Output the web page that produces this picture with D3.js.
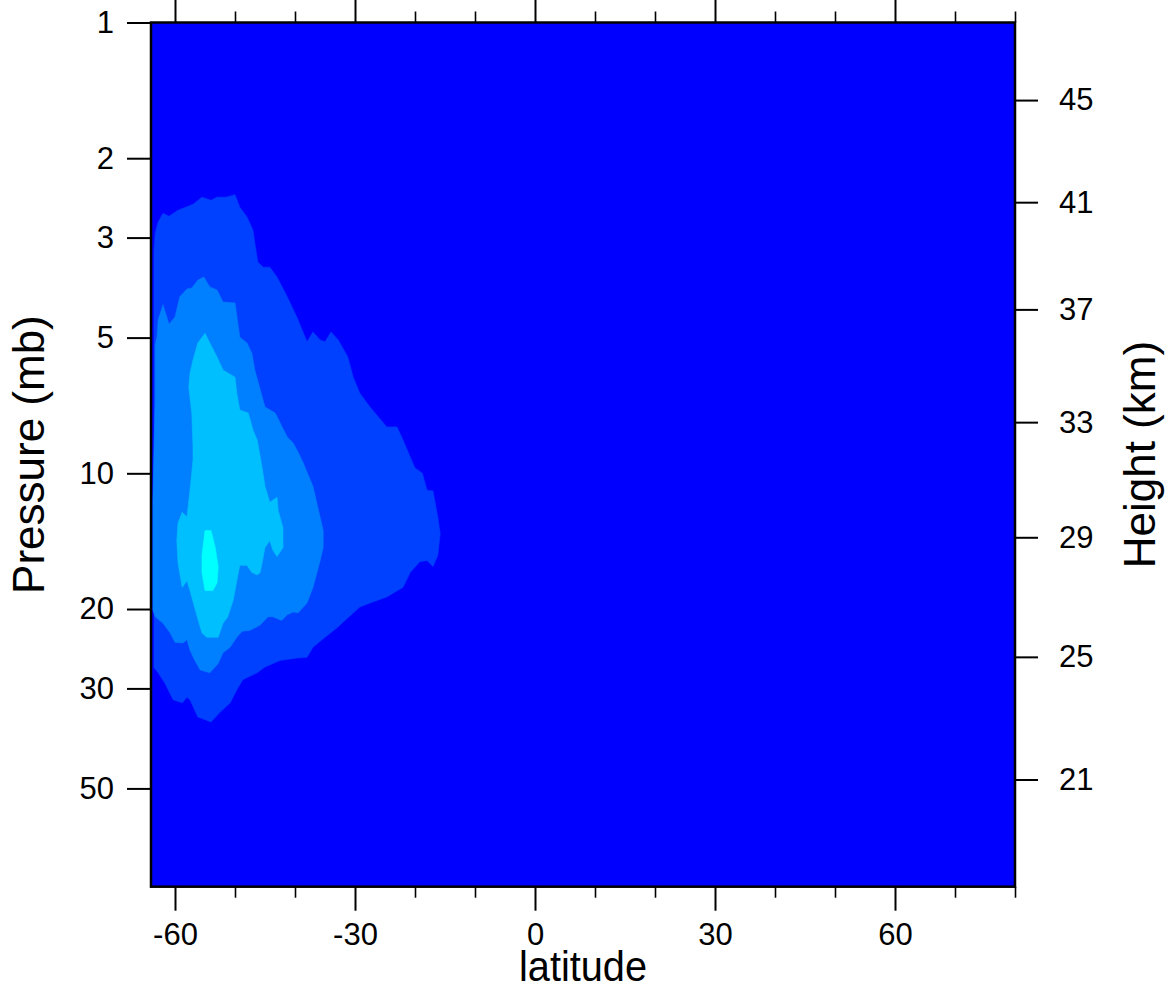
<!DOCTYPE html>
<html>
<head>
<meta charset="utf-8">
<script src="https://cdn.jsdelivr.net/npm/d3@7"></script>
<style>
  html, body { margin: 0; padding: 0; background: #fff; }
  svg { display: block; }
  text { font-family: "Liberation Sans", Arial, Helvetica, sans-serif; fill: #000; }
</style>
</head>
<body>
<svg id="chart" width="1172" height="986"></svg>
<script>
// ---------- data ----------
const latDomain = [-64, 80];
const pressureDomain = [1, 82.6];          // mb, top to bottom
const latMajorTicks = [-60, -30, 0, 30, 60];
const latMinorTicks = [-50, -40, -20, -10, 10, 20, 40, 50, 70, 80];
const pressureTicks = [1, 2, 3, 5, 10, 20, 30, 50];
const heightTicks = [45, 41, 37, 33, 29, 25, 21];            // km
const heightTickPressures = [1.49, 2.51, 4.34, 7.72, 13.9, 25.6, 47.9]; // mb at each height tick

const backgroundColor = "#0000FF";
const levelColors = ["#0040FF", "#0080FF", "#00BFFF", "#00FFFF"];

// filled contour outlines, [latitude, pressure(mb)]
const level1 = [
  [-63.5, 3.2], [-63.3, 2.93], [-62.8, 2.77], [-62, 2.65], [-61, 2.69], [-59.5, 2.61], [-57, 2.53],
  [-55.5, 2.44], [-54, 2.48], [-53, 2.44], [-51.5, 2.44], [-50, 2.41], [-49.2, 2.57], [-48, 2.70],
  [-47, 2.89], [-46.7, 3.08], [-46.2, 3.40], [-45.3, 3.49], [-44.2, 3.49], [-43, 3.67], [-41.3, 4.06],
  [-39.7, 4.50], [-38, 5.11], [-37, 4.86], [-35.8, 5.06], [-35, 5.11], [-34, 4.86], [-32.8, 5.06],
  [-31.2, 5.52], [-30.3, 6.12], [-29.2, 6.64], [-27.5, 7.13], [-24.7, 7.89], [-23, 7.89], [-22, 8.44],
  [-20.8, 9.20], [-20, 9.73], [-18.8, 9.98], [-18, 10.9], [-17, 10.95], [-16.2, 12.5], [-15.8, 13.6],
  [-16.2, 15.2], [-17, 16.1], [-18, 15.6], [-19.2, 15.7], [-20.8, 16.6], [-22, 17.9], [-24.7, 18.8],
  [-27.5, 19.4], [-29.2, 19.8], [-30.3, 20.4], [-33, 22.0], [-35.5, 23.4], [-37, 24.3], [-38, 25.6],
  [-39.7, 25.7], [-42.5, 26.0], [-45, 26.9], [-46.3, 27.7], [-48.7, 28.7], [-49.5, 29.9], [-50.8, 32.3],
  [-52.5, 33.9], [-54, 35.6], [-56.2, 34.7], [-57.5, 31.8], [-58, 31.4], [-58.8, 32.3], [-60.3, 31.8],
  [-61.7, 29.2], [-62.8, 27.7], [-63.5, 27.0]
];
const level2 = [
  [-63.3, 5.19], [-63, 4.99], [-62.8, 4.57], [-62, 4.23], [-61, 4.67], [-60, 4.50], [-59.2, 4.06],
  [-58, 3.90], [-57.2, 3.88], [-56.2, 3.73], [-55.2, 3.67], [-54.2, 3.86], [-53, 3.92], [-52, 4.17],
  [-50, 4.19], [-49.2, 4.99], [-48, 5.14], [-47.2, 5.41], [-46.7, 5.90], [-45, 7.13], [-43.3, 7.35],
  [-41.3, 8.31], [-40.3, 8.57], [-39.5, 8.97], [-38.7, 9.44], [-37, 10.7], [-36.2, 11.9], [-35.3, 13.4],
  [-35.3, 14.6], [-35.8, 15.6], [-37, 17.9], [-38, 19.4], [-39.5, 20.4], [-40.3, 20.3], [-41.3, 20.6],
  [-42.2, 21.2], [-43.7, 20.8], [-44.5, 20.8], [-45.8, 21.7], [-47.5, 22.3], [-48.8, 22.4], [-49.7, 23.1],
  [-50.8, 24.3], [-52, 25.0], [-52.8, 26.4], [-54.2, 27.7], [-55.8, 27.3], [-56.7, 26.0], [-57.5, 24.7],
  [-58, 23.4], [-58.7, 23.8], [-60, 23.7], [-60.8, 22.6], [-62, 21.5], [-63.3, 20.8], [-63.7, 20.1],
  [-63.7, 11.5], [-63.3, 6.88]
];
const level3 = [
  [-55, 4.89], [-54.2, 5.14], [-53, 5.52], [-52, 5.90], [-50, 6.12], [-49.7, 6.64], [-49.2, 7.24],
  [-47.8, 7.35], [-47, 8.02], [-46.3, 8.44], [-45.5, 9.69], [-45, 10.7], [-44.2, 11.6], [-43, 11.3],
  [-42.8, 12.1], [-42, 13.2], [-42, 14.6], [-43, 15.3], [-43.7, 14.8], [-44.2, 14.1], [-45, 14.6],
  [-45.8, 16.6], [-46.3, 16.8], [-47.2, 16.6], [-48, 16.0], [-49.2, 16.0], [-49.7, 17.3], [-50.3, 19.1],
  [-51.2, 20.8], [-52, 21.5], [-52.8, 23.1], [-54.7, 23.1], [-55.5, 22.6], [-56.3, 20.8], [-57.5, 18.2],
  [-58, 17.3], [-58.8, 17.9], [-59.5, 15.8], [-59.7, 14.1], [-59.5, 12.9], [-58.8, 12.2], [-58, 12.5],
  [-57.5, 10.9], [-57, 9.34], [-57, 8.74], [-57.2, 7.35], [-57.7, 6.44], [-57.5, 5.99], [-57, 5.61],
  [-56.2, 5.14]
];
const level4 = [
  [-55, 13.4], [-54, 13.4], [-53.3, 14.6], [-52.8, 16.1], [-53, 17.5], [-53.7, 18.2], [-55, 18.2],
  [-55.5, 16.6], [-55.5, 15.2], [-55.2, 14.1]
];
const levels = [level1, level2, level3, level4];

// ---------- layout ----------
const plot = { left: 151, right: 1015, top: 22.5, bottom: 886.7 };
const majorLen = 24, minorLen = 11;
const tickFont = 31, titleFont = 44, xTitleFont = 42;
const plainNum = d => String(d);   // hyphen-minus as in the reference

const svg = d3.select("#chart");
const x = d3.scaleLinear().domain(latDomain).range([plot.left, plot.right]);
const y = d3.scaleLog().domain(pressureDomain).range([plot.top, plot.bottom]);

// background
svg.append("rect")
  .attr("x", x(latDomain[0])).attr("y", y(pressureDomain[0]))
  .attr("width", x(latDomain[1]) - x(latDomain[0]))
  .attr("height", y(pressureDomain[1]) - y(pressureDomain[0]))
  .attr("fill", backgroundColor);

// filled contours
svg.append("clipPath").attr("id", "plotclip").append("rect")
  .attr("x", plot.left).attr("y", plot.top)
  .attr("width", plot.right - plot.left).attr("height", plot.bottom - plot.top);
const line = d3.line().x(d => x(d[0])).y(d => y(d[1])).curve(d3.curveLinearClosed);
svg.append("g").attr("clip-path", "url(#plotclip)")
  .selectAll("path").data(levels).join("path")
  .attr("d", d => line(d))
  .attr("fill", (d, i) => levelColors[i])
  .attr("stroke", (d, i) => levelColors[i])
  .attr("stroke-width", 0.6);

// axes
function styleAxis(g, major) {
  g.select(".domain").remove();
  g.selectAll(".tick line").attr("stroke", "#000").attr("stroke-width", major ? 2 : 1.6);
  g.selectAll(".tick text").attr("font-size", tickFont).attr("fill", "#000")
    .style("font-family", '"Liberation Sans", Arial, Helvetica, sans-serif');
}
// bottom
const gb = svg.append("g").attr("transform", `translate(0,${plot.bottom})`)
  .call(d3.axisBottom(x).tickValues(latMajorTicks).tickSize(majorLen).tickPadding(12).tickFormat(plainNum));
styleAxis(gb, true);
const gbm = svg.append("g").attr("transform", `translate(0,${plot.bottom})`)
  .call(d3.axisBottom(x).tickValues(latMinorTicks).tickSize(minorLen).tickFormat(""));
styleAxis(gbm, false);
// top
const gt = svg.append("g").attr("transform", `translate(0,${plot.top})`)
  .call(d3.axisTop(x).tickValues(latMajorTicks).tickSize(majorLen).tickFormat(""));
styleAxis(gt, true);
const gtm = svg.append("g").attr("transform", `translate(0,${plot.top})`)
  .call(d3.axisTop(x).tickValues(latMinorTicks).tickSize(minorLen).tickFormat(""));
styleAxis(gtm, false);
// left
const gl = svg.append("g").attr("transform", `translate(${plot.left},0)`)
  .call(d3.axisLeft(y).tickValues(pressureTicks).tickSize(majorLen).tickPadding(13).tickFormat(plainNum));
styleAxis(gl, true);
// right (height)
const hy = d3.scaleOrdinal().domain(heightTicks).range(heightTickPressures.map(p => y(p)));
const gr = svg.append("g").attr("transform", `translate(${plot.right},0)`)
  .call(d3.axisRight(hy).tickSize(23).tickPadding(21).tickFormat(plainNum));
styleAxis(gr, true);
gr.selectAll(".tick").attr("transform", d => `translate(0,${hy(d)})`);

// frame
svg.append("rect")
  .attr("x", plot.left).attr("y", plot.top)
  .attr("width", plot.right - plot.left).attr("height", plot.bottom - plot.top)
  .attr("fill", "none").attr("stroke", "#000").attr("stroke-width", 2.5);

// titles
const midY = (plot.top + plot.bottom) / 2;
svg.append("text").text("Pressure (mb)")
  .attr("transform", `translate(44,${midY}) rotate(-90)`)
  .attr("text-anchor", "middle").attr("font-size", titleFont);
svg.append("text").text("Height (km)")
  .attr("transform", `translate(1155,${midY}) rotate(-90)`)
  .attr("text-anchor", "middle").attr("font-size", titleFont);
svg.append("text").text("latitude")
  .attr("x", (plot.left + plot.right) / 2).attr("y", 981)
  .attr("text-anchor", "middle").attr("font-size", xTitleFont)
  .attr("textLength", 128).attr("lengthAdjust", "spacingAndGlyphs");
</script>
</body>
</html>
